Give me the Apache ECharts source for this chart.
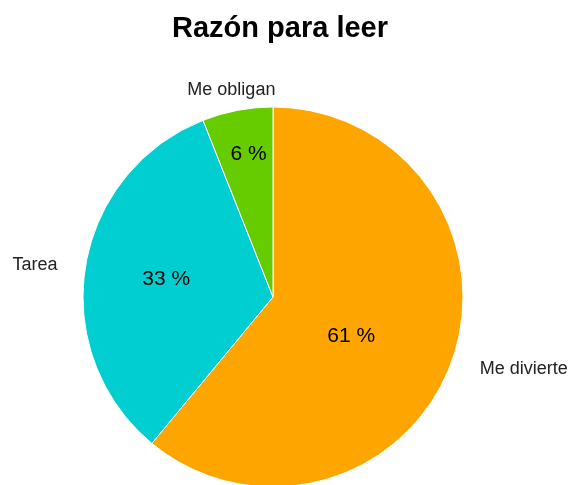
<!DOCTYPE html>
<html>
<head>
<meta charset="utf-8">
<script src="https://cdn.jsdelivr.net/npm/echarts@6/dist/echarts.min.js"></script>
<style>
  html, body { margin: 0; padding: 0; background: #fff; }
  #chart { width: 569px; height: 485px; }
</style>
</head>
<body>
<div id="chart"></div>
<script>
// Razón para leer
var categorias = ['Me divierte', 'Tarea', 'Me obligan'];
var porcentajes = [61, 33, 6];
var colores = ['#FFA500', '#00CED1', '#66CC00'];
// pequeños ajustes de las etiquetas
var ajustesPct = [[-14, 6], [-10, -2], [-6, -47]];
var ajustesNombre = [[2, 2], [-1, 0], [52, -5]];

var chart = echarts.init(document.getElementById('chart'));

var datosPct = [];
var datosNombre = [];
for (var i = 0; i < categorias.length; i++) {
  datosPct.push({
    name: categorias[i],
    value: porcentajes[i],
    itemStyle: { color: colores[i] },
    label: { offset: ajustesPct[i] }
  });
  datosNombre.push({
    name: categorias[i],
    value: porcentajes[i],
    label: { offset: ajustesNombre[i] }
  });
}

var option = {
  animation: false,
  title: {
    text: 'Razón para leer',
    left: 275,
    textAlign: 'center',
    top: 9,
    textStyle: {
      fontFamily: 'Liberation Sans',
      fontWeight: 'bold',
      fontSize: 29,
      color: '#000'
    }
  },
  series: [
    {
      //porcentajes dentro
      type: 'pie',
      center: [273, 297],
      radius: [0, 190],
      startAngle: 90,
      clockwise: true,
      silent: true,
      itemStyle: {
        borderColor: '#fff',
        borderWidth: 1
      },
      label: {
        position: 'inside',
        formatter: '{c} %',
        fontFamily: 'Liberation Sans',
        fontSize: 21,
        color: '#000'
      },
      labelLine: { show: false },
      data: datosPct
    },
    {
      //nombres fuera
      type: 'pie',
      center: [273, 297],
      radius: [0, 190],
      startAngle: 90,
      clockwise: true,
      silent: true,
      itemStyle: { color: 'transparent' },
      label: {
        position: 'outside',
        formatter: '{b}',
        overflow: 'none',
        fontFamily: 'Liberation Sans',
        fontSize: 18,
        color: '#222'
      },
      labelLine: { show: false, length: 16, length2: 6 },
      data: datosNombre
    }
  ]
};
chart.setOption(option);
</script>
</body>
</html>
